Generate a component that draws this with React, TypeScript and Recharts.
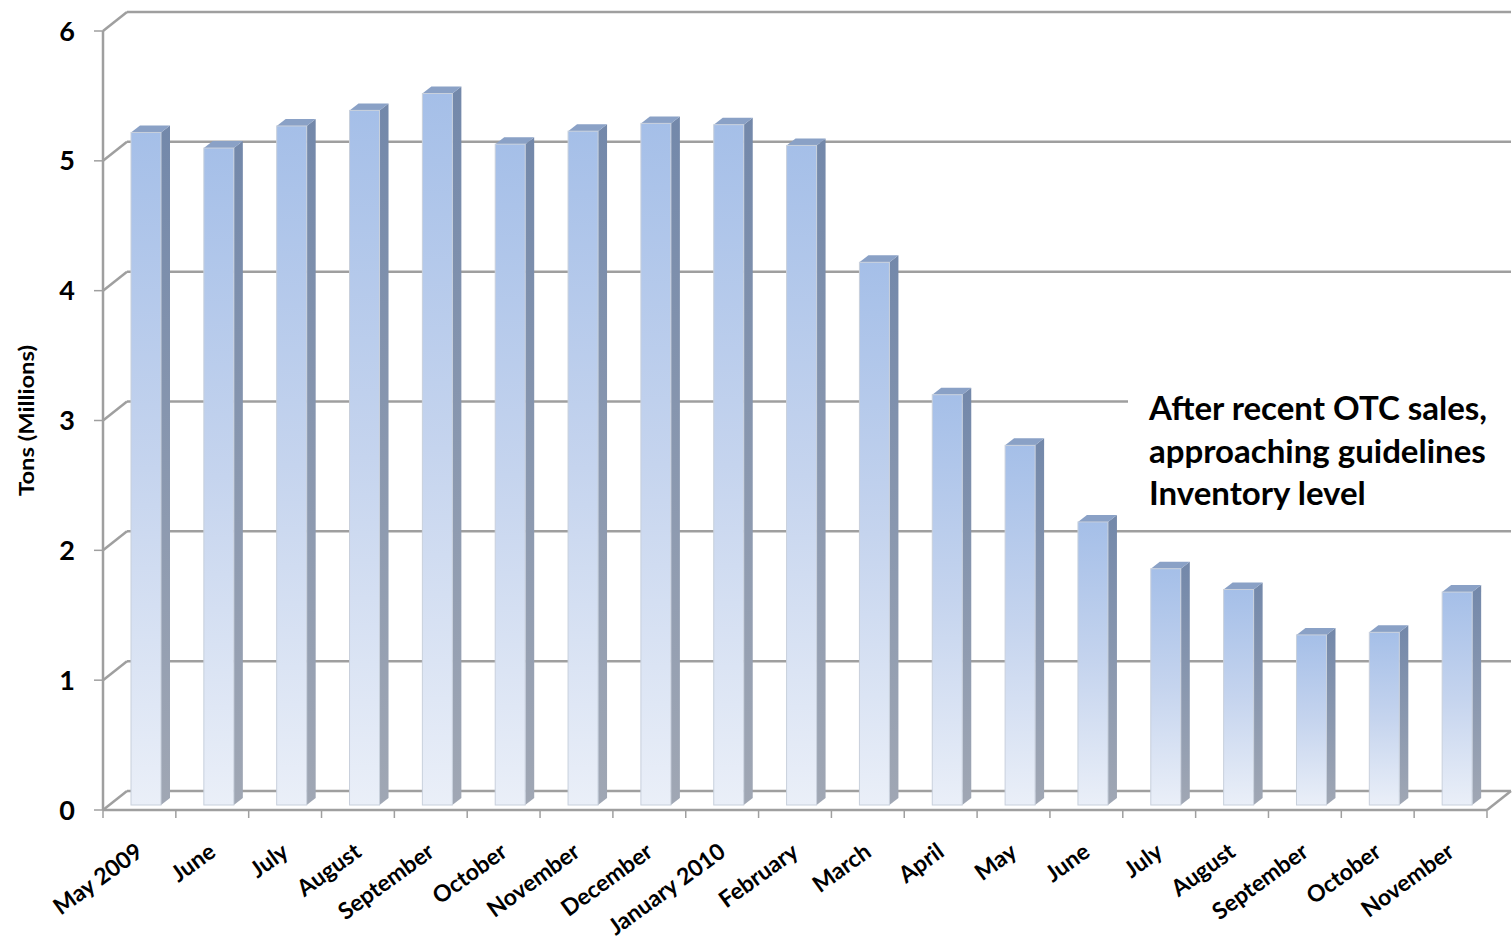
import React from "react";
import { BarChart, Bar, XAxis, YAxis, CartesianGrid, Label } from "recharts";

// Month-end inventory, million tons
const months = [
  "May 2009", "June", "July", "August", "September", "October", "November",
  "December", "January 2010", "February", "March", "April", "May", "June",
  "July", "August", "September", "October", "November",
];
const tonsMillions = [
  5.18, 5.06, 5.23, 5.35, 5.48, 5.09, 5.19, 5.25, 5.24, 5.08,
  4.18, 3.16, 2.77, 2.18, 1.82, 1.66, 1.31, 1.33, 1.64,
];
const yTicks = [0, 1, 2, 3, 4, 5, 6];
const noteLines = ["After recent OTC sales,", "approaching guidelines", "Inventory level"];

const data = months.map((month, i) => ({ month, tons: tonsMillions[i] }));

const WIDTH = 1512;
const HEIGHT = 939;
const PLOT_LEFT = 103;
const PLOT_RIGHT = 1487;
const PLOT_BOTTOM = 810;
const BAND = (PLOT_RIGHT - PLOT_LEFT) / months.length;

// fake 3D: offset of the back wall from the front plane
const DEPTH_X = 24;
const DEPTH_Y = -19;
// columns stand a little way into the box
const COL_DX = 7;
const COL_DY = -5;
const SIDE_X = 9;
const SIDE_Y = -7;

const FONT = "Lato, 'Open Sans', sans-serif";
const GRID = "#9f9f9f";

const Column3D = (props: any) => {
  const { x, y, width, height, index } = props;
  if (height == null || height <= 0) return null;
  const fx = x + COL_DX;
  const fy = y + COL_DY;
  const fb = fy + height;
  const front = `col-front-${index}`;
  const side = `col-side-${index}`;
  return (
    <g>
      <defs>
        <linearGradient id={front} x1="0" y1="0" x2="0" y2="1">
          <stop offset="0%" stopColor="#a5bfe8" />
          <stop offset="50%" stopColor="#c5d4ee" />
          <stop offset="100%" stopColor="#eaeff8" />
        </linearGradient>
        <linearGradient id={side} x1="0" y1="0" x2="0" y2="1">
          <stop offset="0%" stopColor="#7388aa" />
          <stop offset="100%" stopColor="#a0a7b4" />
        </linearGradient>
      </defs>
      <polygon
        points={`${fx + width},${fy} ${fx + width + SIDE_X},${fy + SIDE_Y} ${fx + width + SIDE_X},${fb + SIDE_Y} ${fx + width},${fb}`}
        fill={`url(#${side})`}
      />
      <polygon
        points={`${fx},${fy} ${fx + width},${fy} ${fx + width + SIDE_X},${fy + SIDE_Y} ${fx + SIDE_X},${fy + SIDE_Y}`}
        fill="#8aa1c6"
      />
      <rect x={fx} y={fy} width={width} height={height} fill={`url(#${front})`} stroke="#c8d0dc" strokeWidth={1} />
    </g>
  );
};

// gridlines live on the back wall, joined to the front axis by a short slant
const BackWallLine = (props: any) => {
  const { x1, x2, y1 } = props;
  const by = y1 + DEPTH_Y;
  const isFloor = y1 >= PLOT_BOTTOM - 1;
  return (
    <g key={props.key}>
      <line x1={x1} y1={y1} x2={x1 + DEPTH_X} y2={by} stroke={GRID} strokeWidth={2.5} />
      <line x1={x1 + DEPTH_X} y1={by} x2={x2 + DEPTH_X} y2={by} stroke={GRID} strokeWidth={2.5} />
      {isFloor && <line x1={x2} y1={y1} x2={x2 + DEPTH_X} y2={by} stroke={GRID} strokeWidth={2.5} />}
    </g>
  );
};

const MonthTick = (props: any) => {
  const { x, payload, index } = props;
  const tx = x + 5;
  const ty = PLOT_BOTTOM + 45;
  return (
    <g>
      <line x1={x - BAND / 2} y1={PLOT_BOTTOM} x2={x - BAND / 2} y2={PLOT_BOTTOM + 8} stroke={GRID} strokeWidth={1.5} />
      {index === months.length - 1 && (
        <line x1={x + BAND / 2} y1={PLOT_BOTTOM} x2={x + BAND / 2} y2={PLOT_BOTTOM + 8} stroke={GRID} strokeWidth={1.5} />
      )}
      <text
        x={tx}
        y={ty}
        transform={`rotate(-36, ${tx}, ${ty})`}
        textAnchor="end"
        fontFamily={FONT}
        fontWeight="bold"
        fontSize={23}
        fill="#000"
      >
        {payload.value}
      </text>
    </g>
  );
};

const AxisTitle = ({ viewBox }: any) => {
  const cx = viewBox.x + 26;
  const cy = viewBox.y + viewBox.height / 2;
  return (
    <text
      x={cx}
      y={cy}
      transform={`rotate(-90, ${cx}, ${cy})`}
      textAnchor="middle"
      dominantBaseline="central"
      fontFamily={FONT}
      fontWeight="bold"
      fontSize={20}
      textLength={151}
      lengthAdjust="spacingAndGlyphs"
      fill="#000"
    >
      Tons (Millions)
    </text>
  );
};

export default function App() {
  return (
    <div style={{ position: "fixed", left: 0, top: 0, width: WIDTH, height: HEIGHT, background: "#fff" }}>
      <BarChart
        width={WIDTH}
        height={HEIGHT}
        data={data}
        margin={{ top: 31, right: WIDTH - PLOT_RIGHT, left: 0, bottom: 0 }}
        barSize={30}
      >
        <CartesianGrid vertical={false} horizontal={BackWallLine} />
        <XAxis
          dataKey="month"
          interval={0}
          height={HEIGHT - PLOT_BOTTOM}
          tickLine={false}
          axisLine={{ stroke: GRID, strokeWidth: 2.5 }}
          tick={MonthTick}
        />
        <YAxis
          width={PLOT_LEFT}
          domain={[0, 6]}
          ticks={yTicks}
          tickSize={9}
          tickMargin={19}
          axisLine={{ stroke: GRID, strokeWidth: 2.5 }}
          tickLine={{ stroke: GRID, strokeWidth: 1.5 }}
          tick={{ fontFamily: FONT, fontWeight: "bold", fontSize: 27, fill: "#000" }}
        >
          <Label content={AxisTitle} />
        </YAxis>
        <Bar dataKey="tons" shape={Column3D} isAnimationActive={false} />
      </BarChart>
      <div
        style={{
          position: "absolute",
          left: 1128,
          top: 386,
          width: WIDTH - 1128,
          height: 139,
          background: "#fff",
          paddingLeft: 21,
          boxSizing: "border-box",
          fontFamily: FONT,
          fontWeight: "bold",
          fontSize: 33,
          lineHeight: "42.5px",
          color: "#000",
          whiteSpace: "nowrap",
        }}
      >
        {noteLines.map((line) => (
          <div key={line}>{line}</div>
        ))}
      </div>
    </div>
  );
}
